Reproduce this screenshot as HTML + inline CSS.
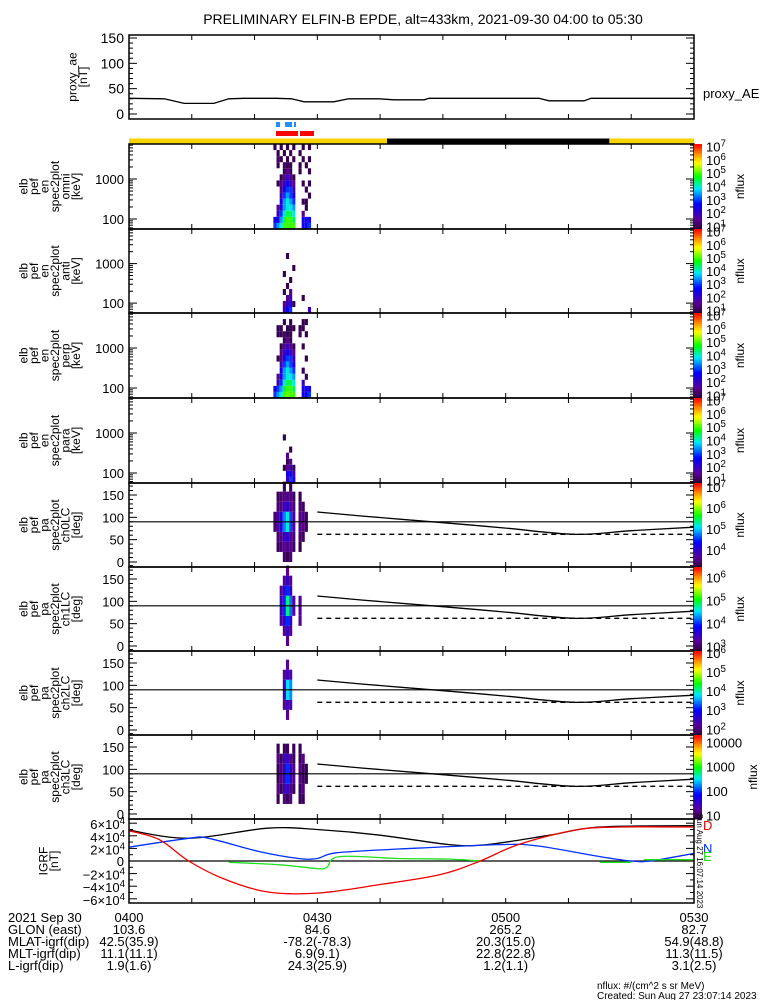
<!DOCTYPE html>
<html><head><meta charset="utf-8"><style>
html,body{margin:0;padding:0;background:#fff;}
svg{display:block;font-family:"Liberation Sans",sans-serif;}
</style></head><body>
<svg id="chart" width="775" height="1000" viewBox="0 0 775 1000" xmlns="http://www.w3.org/2000/svg">
<rect width="775" height="1000" fill="#fff"/>
<text x="423" y="24" font-size="14" text-anchor="middle">PRELIMINARY ELFIN-B EPDE, alt=433km, 2021-09-30 04:00 to 05:30</text>
</svg>
<script>
// ---------- data ----------
const aeT = [0,5.6,8.8,13.5,15.9,18.3,23.5,25.9,27.9,32.6,35,39.8,42.2,47,47.8,65.3,66.9,72.5,73.6,90];
const aeV = [31,30,21,21,30,31,31,30,24,24,30,30,28,28,31,31,26,26,31,31];
const colT = [23,23.5,24,24.5,25,25.5,26,26.5,27,27.5,28,28.5,29];
const p1 = [
[3,3.5,4,5,5,5,5,0,0,2.5,2.5,3,0],
[2.5,2.5,3.5,4.5,5,5,4.5,0,0,2.5,2.5,2.5,0],
[0,2,3,4,4.5,4.5,4,0,0,1.5,0,0,0],
[0,1.5,2.5,3.5,4,4,3.5,0,0,0,1,0,0],
[0,0,2.5,3.5,4,3.5,3,0,0,1,1,0,0],
[0,0,2,3,3.5,3,2.5,0,0,0,0,1,0],
[0,0,1.5,2.5,3,3,2,0,0,0,1,0,0],
[0,1,1.5,2,2.5,2,1.5,0,0,1,0,1,0],
[0,0,1,1.5,2,1.5,1,0,0,0,0,0,0],
[0,0,0,1,1.5,1,0,0,1,0,0,1,0],
[0,1,0,1.2,1,1,0,0,1,0,1,0,0],
[0,1.2,1,0,1,0,1,0,0,1,0,1,0],
[0,1,0,1,0,1.2,0,0,1,0,0,0,0],
[1,0,1,0,1,0,1,0,0,1,0,1,0]];
const p2 = [
[0,0,0,2,2.5,3,0,0,0,0,0,2,0],
[0,0,0,1.5,2,2.5,1,0,0,0,0,0,0],
[0,0,0,0,1.5,2,0,0,0,1,0,0,0],
[0,0,0,1,0,1.5,0,0,0,0,0,0,0],
[0,0,0,0,1,0,0,0,0,0,0,0,0],
[0,0,0,0,0,1,0,0,0,0,0,0,0],
[0,0,0,1,0,0,0,0,0,0,0,0,0],
[0,0,0,0,0,0,1,0,0,0,0,0,0],
[0,0,0,0,0,0,0,0,0,0,0,0,0],
[0,0,0,0,1,0,0,0,0,0,0,0,0],
[0,0,0,0,0,0,0,0,0,0,0,0,0],
[0,0,0,0,0,0,0,0,0,0,0,0,0],
[0,0,0,0,0,0,0,0,0,0,0,0,0],
[0,0,0,0,0,0,0,0,0,0,0,0,0]];
const p3 = [
[3,3.5,4,5,5.2,5,5,0,0,2.5,2.5,3,0],
[2.5,3,3.5,4.5,5,5,4.5,0,0,2.5,2.5,2.5,0],
[0,2,3,4,4.5,4.5,4,0,0,2,0,0,0],
[0,1.5,2.5,3.5,4,4,3.5,0,0,0,1,0,0],
[0,0,2.5,3.5,4,3.5,3,0,0,1,0,0,0],
[0,0,2,3,3.5,3,2.5,0,0,0,0,0,0],
[0,1,1.5,2.5,3,3,2,0,0,0,1,0,0],
[0,0,1.5,2,2.5,2,1.5,0,0,0,0,0,0],
[0,0,1,1.5,2,1.5,1,0,0,1,0,0,0],
[0,0,0,1,1.5,1,0,0,0,0,0,0,0],
[0,1,1,1.2,1,1,0,0,1,0,1,0,0],
[0,1,1,0,1,1,1,0,1,1,0,0,0],
[0,0,0,1,0,1,0,0,0,1,1,0,0],
[0,0,0,0,0,0,0,0,0,0,0,0,0]];
const p4 = [
[0,0,0,0,2,3,2.5,0,0,0,0,0,0],
[0,0,0,0,2.5,2.5,2,0,0,0,0,0,0],
[0,0,0,1,1.5,2,1,0,0,0,0,0,0],
[0,0,0,0,1,1.5,0,0,0,0,0,0,0],
[0,0,0,0,1.5,0,0,0,0,0,0,0,0],
[0,0,0,0,0,1,0,0,0,0,0,0,0],
[0,0,0,0,0,0,0,0,0,0,0,0,0],
[0,0,0,1,0,0,0,0,0,0,0,0,0],
[0,0,0,0,0,0,0,0,0,0,0,0,0],
[0,0,0,0,0,0,0,0,0,0,0,0,0],
[0,0,0,0,0,0,0,0,0,0,0,0,0],
[0,0,0,0,0,0,0,0,0,0,0,0,0],
[0,0,0,0,0,0,0,0,0,0,0,0,0],
[0,0,0,0,0,0,0,0,0,0,0,0,0]];
const p5 = [
[0,0,0,3.5,3.3,3.5,0,0,0,0,0,0,0],
[0,3.4,3.5,3.7,3.6,3.7,3.4,0,3.3,0,0,0,0],
[0,3.5,3.6,4,4,3.8,3.5,0,3.5,3.4,0,0,0],
[3.5,3.8,4.2,4.8,5.2,4.6,3.8,0,3.6,3.6,3.4,0,0],
[3.5,3.8,4.2,4.8,5.2,4.6,3.8,0,3.6,3.6,3.4,0,0],
[0,3.5,3.6,4,4,3.8,3.5,0,3.5,3.4,0,0,0],
[0,3.4,3.5,3.6,3.6,3.6,3.4,0,3.3,0,0,0,0],
[0,0,0,3.4,0,3.4,0,0,0,0,0,0,0]];
const p6 = [
[0,0,0,0,3.2,0,0,0,0,0,0,0,0],
[0,0,0,3.2,3.5,3.2,0,0,0,0,0,0,0],
[0,0,3.3,3.6,4,3.5,0,0,3.2,0,0,0,0],
[0,0,3.5,4,4.8,4.2,3.3,0,3.3,0,0,0,0],
[0,0,3.5,4,4.8,4.2,3.3,0,3.3,0,0,0,0],
[0,0,3.3,3.6,4,3.5,0,0,0,0,0,0,0],
[0,0,0,3.3,3.5,3.2,0,0,0,0,0,0,0],
[0,0,0,0,3.2,0,0,0,0,0,0,0,0]];
const p7 = [
[0,0,0,0,0,0,0,0,0,0,0,0,0],
[0,0,0,0,2.2,0,0,0,0,0,0,0,0],
[0,0,0,2.2,2.5,2.3,0,0,0,0,0,0,0],
[0,0,0,2.5,3.8,3.5,0,0,0,0,0,0,0],
[0,0,0,2.5,3.8,3.5,0,0,0,0,0,0,0],
[0,0,0,2.2,2.5,2.3,0,0,0,0,0,0,0],
[0,0,0,0,2.2,0,0,0,0,0,0,0,0],
[0,0,0,0,0,0,0,0,0,0,0,0,0]];
const p8 = [
[0,0,0,0,0,0,0,0,0,0,0,0,0],
[0,1,0,1.2,1,1.2,0,0,1,1,0,0,0],
[0,1.2,1,1.5,1.5,1.2,1,0,1,1.2,0,0,0],
[0,1,1.2,1.5,2,1.5,1.2,0,1.2,1,1,0,0],
[0,1,1.2,1.5,2,1.5,1.2,0,1.2,1,1,0,0],
[0,1.2,1,1.5,1.5,1.2,1,0,1,1.2,0,0,0],
[0,1,0,1,1,0,1,0,1,0,0,0,0],
[0,0,0,0,0,0,0,0,0,0,0,0,0]];
const lcT = [30,37,50,60,71,80,90];
const lcV = [112,103,88,76,62,70,78];
const alcT = [30,90];
const alcV = [62,62];
const igT = [0,9.5,22,30,40,51,57,67,75,90];
const igF = [4.9,3.6,5.2,5.0,4.1,2.6,2.6,4.1,5.4,5.6];
const igNT = [0,9.5,12.7,20.7,27,30,33,43,59,65,75,80,83,90];
const igN = [2.2,3.6,3.6,1.5,0.4,0.4,1.3,1.9,2.6,2.4,0.7,0,0,1.2];
const igDT = [0,4.8,9.5,15,22,30,39.6,49.4,55.7,62,71,78,90];
const igD = [4.8,3.4,0,-2.8,-4.9,-5.1,-3.8,-2.2,-0.1,2.6,4.9,5.4,5.4];
const igET = [15.9,24,30,31.5,33.5,43,51,56,null,75,80,null,82,90];
const igE = [-0.2,-0.6,-1.2,-1.0,0.7,0.4,0.3,0,null,-0.2,-0.2,null,0.2,0.2];
const footLabels = ["2021 Sep 30","GLON (east)","MLAT-igrf(dip)","MLT-igrf(dip)","L-igrf(dip)"];
const footTimes = [0,30,60,90];
const footCols = [["0400","0430","0500","0530"],["103.6","84.6","265.2","82.7"],["42.5(35.9)","-78.2(-78.3)","20.3(15.0)","54.9(48.8)"],["11.1(11.1)","6.9(9.1)","22.8(22.8)","11.3(11.5)"],["1.9(1.6)","24.3(25.9)","1.2(1.1)","3.1(2.5)"]];

// ---------- helpers ----------
const svg = document.getElementById('chart');
const NS = 'http://www.w3.org/2000/svg';
const X0 = 129, X1 = 694;
function xS(t){ return X0 + t*(X1-X0)/90; }
function mk(tag, a){ const e=document.createElementNS(NS,tag); for(const k in a) e.setAttribute(k,a[k]); svg.appendChild(e); return e; }
const stops=[[0,[40,0,55]],[0.12,[90,0,150]],[0.3,[0,0,255]],[0.48,[0,230,255]],[0.62,[0,255,0]],[0.78,[255,255,0]],[0.88,[255,150,0]],[1,[255,0,0]]];
function cmap(f){ f=Math.max(0,Math.min(1,f)); for(let i=1;i<stops.length;i++){ if(f<=stops[i][0]){ const a=stops[i-1],b=stops[i]; const u=(f-a[0])/(b[0]-a[0]); const c=a[1].map((v,k)=>Math.round(v+(b[1][k]-v)*u)); return 'rgb('+c.join(',')+')'; } } return 'rgb(255,0,0)'; }
function line(x1,y1,x2,y2,w,c,name){ const l=mk('line',{x1,y1,x2,y2,stroke:c||'#000','stroke-width':w||1});
 
  return l; }
function txt(x,y,s,size,anchor,name,fill){ const t=mk('text',{x,y,'font-size':size||12,'text-anchor':anchor||'start',fill:fill||'#000'}); t.textContent=s;
 
  return t; }
function sup(x,y,base,exp,size,name,anchor){ const t=mk('text',{x,y,'font-size':size,'text-anchor':anchor||'start'}); t.textContent=base; const s=document.createElementNS(NS,'tspan'); s.setAttribute('dy',-5); s.setAttribute('font-size',size*0.75); s.textContent=exp; t.appendChild(s);
 
  return t; }
function frame(yt,yb,name){ const r=mk('rect',{x:X0,y:yt,width:X1-X0,height:yb-yt,fill:'none',stroke:'#000','stroke-width':1.5});
 
 
 for(let t=10;t<90;t+=10){ line(xS(t),yb,xS(t),yb-5,1); line(xS(t),yt,xS(t),yt+5,1); } }
function ytick(y,major){ const L=major?8:4; line(X0,y,X0+L,y,1); line(X1,y,X1-L,y,1); }
function sideLabel(lines,xLast,yc,name){ const n=lines.length; lines.forEach((s,j)=>{ const x=xLast-(n-1-j)*10.5; const t=mk('text',{x:0,y:0,'font-size':12,'text-anchor':'middle',transform:'translate('+x+','+yc+') rotate(-90)'}); t.textContent=s;
 
  }); }
function segPath(pts,smooth){ let d='M'+pts[0][0].toFixed(1)+','+pts[0][1].toFixed(1);
 for(let i=1;i<pts.length;i++){ if(!smooth){ d+='L'+pts[i][0].toFixed(1)+','+pts[i][1].toFixed(1); continue; }
  const p0=pts[Math.max(0,i-2)],p1=pts[i-1],p2=pts[i],p3=pts[Math.min(pts.length-1,i+1)];
  const c1=[p1[0]+(p2[0]-p0[0])/6,p1[1]+(p2[1]-p0[1])/6], c2=[p2[0]-(p3[0]-p1[0])/6,p2[1]-(p3[1]-p1[1])/6];
  d+='C'+c1[0].toFixed(1)+','+c1[1].toFixed(1)+' '+c2[0].toFixed(1)+','+c2[1].toFixed(1)+' '+p2[0].toFixed(1)+','+p2[1].toFixed(1); }
 return d; }
function poly(T,V,xf,yf,color,name,dash,smooth){ let d='',seg=[];
 const flush=()=>{ if(seg.length) d+=segPath(seg,smooth); seg=[]; };
 for(let i=0;i<T.length;i++){ if(T[i]===null){flush();continue;} seg.push([xf(T[i]),yf(V[i])]); } flush();
 const p=mk('path',{d,fill:'none',stroke:color,'stroke-width':1.3}); if(dash) p.setAttribute('stroke-dasharray',dash);
 
  return p; }

// ---------- top proxy_ae panel ----------
{
 const yt=35,yb=119; const yf=v=>114-v*76/150;
 poly(aeT,aeV,xS,yf,'#000','proxy-ae-line');
 frame(yt,yb,'proxy-ae-panel');
 for(let v=0;v<=150;v+=10) ytick(yf(v),v%50===0);
 [0,50,100,150].forEach(v=>txt(124,yf(v)+5,String(v),14,'end','proxy-ae-tick-label'));
 sideLabel(['proxy_ae','[nT]'],87,77,'proxy-ae-axis-title');
 txt(703,98,'proxy_AE',13,'start','proxy-ae-legend');
}
// orbit/status bars
[[276,280],[285,292],[294,296]].forEach(s=>{ const r=mk('rect',{x:s[0],y:122,width:s[1]-s[0],height:5,fill:'#1e90ff'});
 
  });
[[276,298],[300,314]].forEach(s=>{ const r=mk('rect',{x:s[0],y:131,width:s[1]-s[0],height:5,fill:'#f00'});
 
  });
{ const r=mk('rect',{x:X0,y:138.5,width:X1-X0,height:5.5,fill:'#f5d400'});
 
 
 const b=mk('rect',{x:xS(41.1),y:138.5,width:xS(76.5)-xS(41.1),height:5.5,fill:'#000'});
 
  }

// ---------- spectrogram panels ----------
function colorbar(yt,yb,lo,hi,labels,plain,idx){
 const n=40; for(let i=0;i<n;i++){ const r=mk('rect',{x:694,y:yb-(i+1)*(yb-yt)/n,width:8,height:(yb-yt)/n+0.5,fill:cmap((i+0.5)/n)});
  
   }
 const yf=v=>yb-(v-lo)/(hi-lo)*(yb-yt);
 labels.forEach(e=>{ const y=yf(e)+5; if(plain) txt(706,y,String(Math.pow(10,e)),13,'start','colorbar-tick-label'); else sup(706,y,'10',String(e),13,'colorbar-tick-label'); });
 const t=mk('text',{x:0,y:0,'font-size':12,'text-anchor':'middle',transform:'translate('+(plain?757:744)+','+((yt+yb)/2)+') rotate(-90)'}); t.textContent='nflux';
 
 
}
function drawCells(M,yt,yb,rowEdge,lo,hi,name){
 M.forEach((row,r)=>row.forEach((v,c)=>{ if(!v) return; const xa=xS(colT[c]), xb=xS(colT[c]+0.5); const ya=rowEdge(r+1), yb2=rowEdge(r);
  const cell=mk('rect',{x:xa,y:ya,width:xb-xa,height:yb2-ya,fill:cmap((v-lo)/(hi-lo))});
  
   })); }
const enPanels=[[144,229,p1,'omni'],[229,313,p2,'anti'],[313,398,p3,'perp'],[398,483,p4,'para']];
enPanels.forEach((P,i)=>{
 const [yt,yb,M,nm]=P; const lo=1.75,hi=3.875; const yf=le=>yb-(le-lo)/(hi-lo)*(yb-yt);
 const nb=M.length; const edge=r=>yf(lo+r*(hi-lo)/nb);
 drawCells(M,yt,yb,edge,0.8,7.2,'energy-spectrogram-cell-'+nm);
 frame(yt,yb,'energy-panel-'+nm);
 [60,70,80,90,100,200,300,400,500,600,700,800,900,1000,2000,3000,4000,5000,6000,7000].forEach(e=>ytick(yf(Math.log10(e)),e===100||e===1000));
 txt(124,yf(2)+5,'100',13,'end','energy-tick-label'); txt(124,yf(3)+5,'1000',13,'end','energy-tick-label');
 sideLabel(['elb','pef','en','spec2plot',nm,'[keV]'],80,(yt+yb)/2,'energy-panel-title');
 colorbar(yt,yb,0.8,7.2,[1,2,3,4,5,6,7],false,i);
});
const paPanels=[[483,567,p5,'ch0LC',3.2,7.2,[4,5,6,7],false],[567,651,p6,'ch1LC',2.8,6.45,[3,4,5,6],false],[651,735,p7,'ch2LC',1.7,6.1,[2,3,4,5,6],false],[735,819,p8,'ch3LC',0.85,4.3,[1,2,3,4],true]];
paPanels.forEach((P,i)=>{
 const [yt,yb,M,nm,lo,hi,labs,plain]=P; const yf=pa=>yb-5-pa*0.4467;
 const edge=r=>yf(r*180/M.length);
 drawCells(M,yt,yb,edge,lo,hi,'pitch-angle-cell-'+nm);
 line(X0,yf(90),X1,yf(90),1.2,'#000','pa-90-line');
 poly(lcT,lcV,xS,yf,'#000','loss-cone-line',null,true);
 poly(alcT,alcV,xS,yf,'#000','anti-loss-cone-line','5,4');
 frame(yt,yb,'pitch-angle-panel-'+nm);
 for(let v=0;v<=180;v+=10) ytick(yf(v),v%50===0);
 [0,50,100,150].forEach(v=>txt(124,yf(v)+5,String(v),13,'end','pitch-angle-tick-label'));
 sideLabel(['elb','pef','pa','spec2plot',nm,'[deg]'],80,(yt+yb)/2,'pitch-angle-panel-title');
 colorbar(yt,yb,lo,hi,labs,plain,4+i);
});

// ---------- IGRF panel ----------
{
 const yt=819,yb=903; const yf=v=>861-v*6.3;
 line(X0,yf(0),X1,yf(0),1.2,'#000','igrf-zero-line');
 poly(igT,igF,xS,yf,'#000','igrf-total-line',null,true);
 poly(igNT,igN,xS,yf,'#0030ff','igrf-n-line',null,true);
 poly(igET,igE,xS,yf,'#20e020','igrf-e-line',null,true);
 poly(igDT,igD,xS,yf,'#f00000','igrf-d-line',null,true);
 frame(yt,yb,'igrf-panel');
 for(let v=-6;v<=6;v+=1) ytick(yf(v),v%2===0);
 [-6,-4,-2,2,4,6].forEach(v=>{ const s=(v<0?'\u2212':'')+Math.abs(v)+'\u00d710'; sup(125,yf(v)+6,s,'4',13,'igrf-tick-label','end'); });
 txt(124,yf(0)+5,'0',13,'end','igrf-tick-label');
 sideLabel(['IGRF','[nT]'],58,861,'igrf-axis-title');
 txt(703,830,'D',13,'start','igrf-legend-d','#f00000');
 txt(703,853,'N',13,'start','igrf-legend-n','#0030ff');
 txt(703,861,'E',13,'start','igrf-legend-e','#20e020');
 const t=mk('text',{x:0,y:0,'font-size':8,'text-anchor':'middle',transform:'translate(697,861) rotate(90)'}); t.textContent='Sun Aug 27 16:07:14 2023';
 
 
}

// ---------- footer ----------
footLabels.forEach((s,r)=>{ const y=922+r*12; txt(8,y,s,13,'start','footer-row-label');
 footCols[r].forEach((v,c)=>txt(xS(footTimes[c]),y,v,13,'middle','footer-value')); });
txt(597,989,'nflux: #/(cm^2 s sr MeV)',10,'start','units-note');
txt(597,999,'Created: Sun Aug 27 23:07:14 2023',10,'start','created-note');
</script>
</body></html>
